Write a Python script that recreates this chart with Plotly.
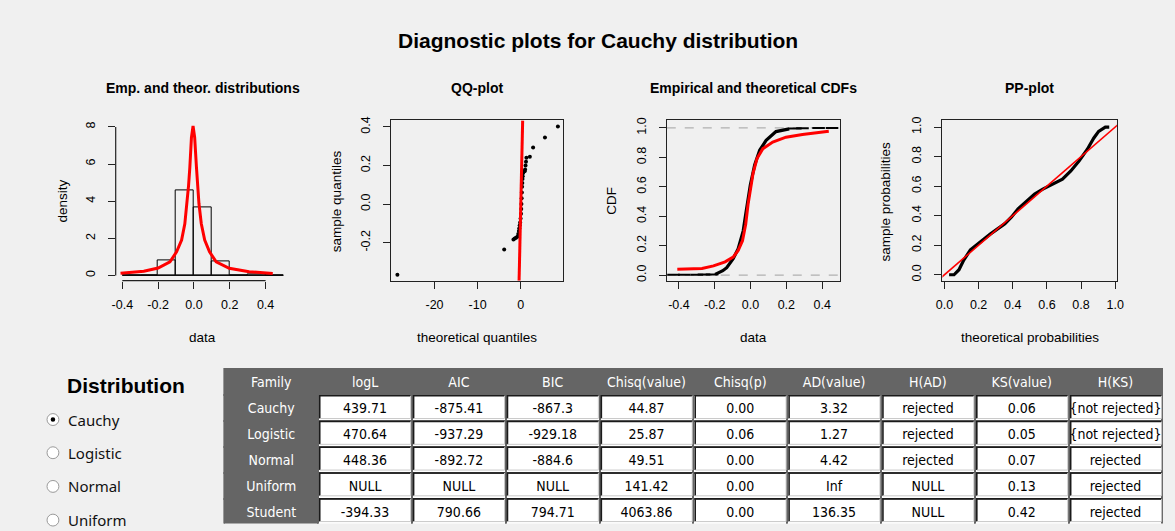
import plotly.graph_objects as go

W, H = 1175, 531
BG = "#f0f0f0"
DARK = "#656565"
ARIAL = "Liberation Sans, Arial, sans-serif"
NARROW = "Liberation Sans Narrow, Arial Narrow, DejaVu Sans Condensed, sans-serif"
UI = "Noto Sans, Open Sans, sans-serif"

# ---- density panel: histogram bins and fitted Cauchy density ----
hist_edges = [-0.4, -0.3, -0.2, -0.1, 0.0, 0.1, 0.2, 0.3, 0.4, 0.5]
hist_density = [0.02, 0.0, 0.82, 4.57, 3.64, 0.73, 0.0, 0.03, 0.0]
dens_x = [-0.41, -0.28, -0.2, -0.134, -0.097, -0.069, -0.051, -0.038, -0.03, -0.023,
          -0.014, -0.005, 0.004, 0.014, 0.02, 0.028, 0.041, 0.06, 0.087, 0.124,
          0.197, 0.308, 0.44]
dens_y = [0.11, 0.22, 0.4, 0.73, 1.27, 1.9, 2.78, 3.86, 4.85, 5.82,
          7.43, 8.05, 7.43, 5.82, 4.85, 3.86, 2.78, 1.9, 1.27, 0.73,
          0.38, 0.2, 0.1]

# ---- QQ panel ----
qq_theo = [-28.6, -3.85, -1.7, -1.4, -1.1, -0.8, -0.6, -0.45, -0.35, -0.25,
           -0.15, -0.05, 0.05, 0.1, 0.15, 0.2, 0.25, 0.3, 0.35, 0.4,
           0.45, 0.5, 0.9, 1.0, 1.1, 1.2, 1.3, 2.1, 2.85, 5.6, 8.6]
qq_samp = [-0.366, -0.236, -0.184, -0.179, -0.174, -0.169, -0.155, -0.14, -0.125, -0.11,
           -0.095, -0.075, -0.05, -0.025, 0.0, 0.03, 0.06, 0.09, 0.11, 0.13,
           0.145, 0.16, 0.17, 0.18, 0.2, 0.22, 0.24, 0.245, 0.294, 0.345, 0.402]

# ---- CDF panel ----
ecdf_x = [-0.198, -0.179, -0.155, -0.133, -0.097, -0.069, -0.041, -0.027, -0.014, -0.001,
          0.023, 0.051, 0.087, 0.142, 0.216]
ecdf_y = [0.005, 0.016, 0.03, 0.051, 0.112, 0.179, 0.301, 0.413, 0.525, 0.614,
          0.748, 0.848, 0.915, 0.975, 0.993]
ecdf_low_x = [-0.43, -0.37, -0.3, -0.26, -0.215]
ecdf_low_y = [0.002, 0.002, 0.003, 0.004, 0.004]
ecdf_high_x = [0.25, 0.29, 0.38, 0.455]
ecdf_high_y = [0.996, 0.998, 0.999, 1.0]
cauchy_cdf_x = [-0.409, -0.271, -0.207, -0.142, -0.097, -0.069, -0.045, -0.027, -0.014, -0.001,
                0.014, 0.036, 0.069, 0.124, 0.198, 0.29, 0.437]
cauchy_cdf_y = [0.040, 0.045, 0.063, 0.090, 0.123, 0.168, 0.234, 0.346, 0.48, 0.592,
                0.692, 0.792, 0.859, 0.904, 0.937, 0.955, 0.977]

# ---- PP panel ----
pp_theo = [0.027, 0.056, 0.085, 0.113, 0.152, 0.21, 0.268, 0.354, 0.393, 0.431,
           0.48, 0.528, 0.576, 0.634, 0.691, 0.74, 0.788, 0.836, 0.875, 0.903,
           0.942, 0.965]
pp_samp = [0.0, 0.0, 0.034, 0.1, 0.168, 0.224, 0.275, 0.346, 0.391, 0.446,
           0.498, 0.547, 0.58, 0.614, 0.647, 0.703, 0.77, 0.848, 0.926, 0.971,
           1.0, 1.0]

# ---- goodness-of-fit table ----
headers = ["Family", "logL", "AIC", "BIC", "Chisq(value)", "Chisq(p)",
           "AD(value)", "H(AD)", "KS(value)", "H(KS)"]
families = ["Cauchy", "Logistic", "Normal", "Uniform", "Student"]
logL = ["439.71", "470.64", "448.36", "NULL", "-394.33"]
aic = ["-875.41", "-937.29", "-892.72", "NULL", "790.66"]
bic = ["-867.3", "-929.18", "-884.6", "NULL", "794.71"]
chisq_value = ["44.87", "25.87", "49.51", "141.42", "4063.86"]
chisq_p = ["0.00", "0.06", "0.00", "0.00", "0.00"]
ad_value = ["3.32", "1.27", "4.42", "Inf", "136.35"]
h_ad = ["rejected", "rejected", "rejected", "NULL", "NULL"]
ks_value = ["0.06", "0.05", "0.07", "0.13", "0.42"]
h_ks = ["{not rejected}", "{not rejected}", "rejected", "rejected", "rejected"]

radio_options = ["Cauchy", "Logistic", "Normal", "Uniform"]
selected = "Cauchy"


def px(x):
    return x / W


def py(y):
    return 1 - y / H


def dom_x(a, b):
    return [a / W, b / W]


def dom_y(top, bottom):
    return [1 - bottom / H, 1 - top / H]


def nowrap(values):
    # keep multi-word entries on a single line inside the table cells
    return [v.replace(" ", "\u00a0") for v in values]


fig = go.Figure()

# histogram
centers = [(a + b) / 2 for a, b in zip(hist_edges[:-1], hist_edges[1:])]
widths = [b - a for a, b in zip(hist_edges[:-1], hist_edges[1:])]
fig.add_trace(go.Bar(x=centers, y=hist_density, width=widths,
                     marker=dict(color="rgba(0,0,0,0)", line=dict(color="black", width=1)),
                     xaxis="x", yaxis="y", hoverinfo="skip"))
fig.add_trace(go.Scatter(x=[hist_edges[0], hist_edges[-1]], y=[0, 0], mode="lines",
                         line=dict(color="black", width=1), xaxis="x", yaxis="y"))
fig.add_trace(go.Scatter(x=dens_x, y=dens_y, mode="lines",
                         line=dict(color="red", width=3), xaxis="x", yaxis="y"))

# QQ plot
qq_yrange = [-0.397, 0.434]
fig.add_trace(go.Scatter(x=qq_theo, y=qq_samp, mode="markers",
                         marker=dict(color="black", size=4), xaxis="x2", yaxis="y2"))
fig.add_trace(go.Scatter(x=qq_yrange, y=qq_yrange, mode="lines",
                         line=dict(color="red", width=3), xaxis="x2", yaxis="y2"))

# CDFs
fig.add_trace(go.Scatter(x=ecdf_x, y=ecdf_y, mode="lines",
                         line=dict(color="black", width=3.2), xaxis="x3", yaxis="y3"))
fig.add_trace(go.Scatter(x=ecdf_low_x + ecdf_high_x, y=ecdf_low_y + ecdf_high_y, mode="markers",
                         marker=dict(symbol="line-ew", size=9, line=dict(color="black", width=2)),
                         xaxis="x3", yaxis="y3"))
fig.add_trace(go.Scatter(x=cauchy_cdf_x, y=cauchy_cdf_y, mode="lines",
                         line=dict(color="red", width=3), xaxis="x3", yaxis="y3"))

# PP plot
fig.add_trace(go.Scatter(x=pp_theo, y=pp_samp, mode="lines",
                         line=dict(color="black", width=3.2), xaxis="x4", yaxis="y4"))
fig.add_trace(go.Scatter(x=[-0.05, 1.05], y=[-0.05, 1.05], mode="lines",
                         line=dict(color="red", width=1.6), xaxis="x4", yaxis="y4"))

# table
n_rows = len(families)
n_cols = len(headers)
columns = [families, logL, aic, bic, chisq_value, chisq_p, ad_value, h_ad, ks_value, h_ks]
fig.add_trace(go.Table(
    domain=dict(x=[220 / W, 1170 / W], y=[1 - 525 / H, 1 - 368 / H]),
    columnwidth=[1] * n_cols,
    header=dict(values=headers, fill_color=DARK, line=dict(color=DARK, width=2),
                font=dict(color="white", size=14, family=NARROW), height=26, align="center"),
    cells=dict(values=[nowrap(col) for col in columns],
               fill_color=[[DARK] * n_rows] + [["white"] * n_rows] * (n_cols - 1),
               line=dict(color=DARK, width=2),
               font=dict(color=["white"] + ["black"] * (n_cols - 1), size=14, family=NARROW),
               height=26, align="center"),
))

tick_font = dict(family=ARIAL, size=12.5, color="black")
common = dict(showgrid=False, zeroline=False, ticks="outside", ticklen=7, tickwidth=1,
              tickcolor="#222", tickfont=tick_font, fixedrange=True)
boxed = dict(showline=True, mirror=True, linecolor="#222", linewidth=1.2)

plot_top, plot_bottom = 117.5, 279.3


def fmt(v, nd):
    return f"{v:.{nd}f}"


hist_xt = [-0.4, -0.2, 0.0, 0.2, 0.4]
hist_yt = [0, 2, 4, 6, 8]
qq_xt = [-20, -10, 0]
qq_yt = [-0.2, 0.0, 0.2, 0.4]
prob_t = [0.0, 0.2, 0.4, 0.6, 0.8, 1.0]

XSO, YSO = 5, 8
fig.update_layout(
    width=W, height=H, margin=dict(l=0, r=0, t=0, b=0),
    paper_bgcolor=BG, plot_bgcolor=BG, showlegend=False, bargap=0,
    xaxis=dict(domain=dom_x(110, 286), range=[-0.437, 0.534], anchor="y",
               tickvals=hist_xt, ticktext=[fmt(v, 1) for v in hist_xt], ticklabelstandoff=XSO, **common),
    yaxis=dict(domain=dom_y(plot_top, plot_bottom), range=[-0.284, 8.35], anchor="x",
               tickvals=hist_yt, ticktext=[str(v) for v in hist_yt], tickangle=-90,
               ticklabelstandoff=YSO, **common),
    xaxis2=dict(domain=dom_x(389, 563), range=[-30.0, 9.85], anchor="y2",
                tickvals=qq_xt, ticktext=[str(v) for v in qq_xt], ticklabelstandoff=XSO, **common, **boxed),
    yaxis2=dict(domain=dom_y(plot_top, plot_bottom), range=qq_yrange, anchor="x2",
                tickvals=qq_yt, ticktext=[fmt(v, 1) for v in qq_yt], tickangle=-90,
                ticklabelstandoff=YSO, **common, **boxed),
    xaxis3=dict(domain=dom_x(667.7, 843.3), range=[-0.468, 0.501], anchor="y3",
                tickvals=hist_xt, ticktext=[fmt(v, 1) for v in hist_xt], ticklabelstandoff=XSO,
                **common, **boxed),
    yaxis3=dict(domain=dom_y(plot_top, plot_bottom), range=[-0.0375, 1.051], anchor="x3",
                tickvals=prob_t, ticktext=[fmt(v, 1) for v in prob_t], tickangle=-90,
                ticklabelstandoff=YSO, **common, **boxed),
    xaxis4=dict(domain=dom_x(946.7, 1123.3), range=[-0.012, 1.01], anchor="y4",
                tickvals=prob_t, ticktext=[fmt(v, 1) for v in prob_t], ticklabelstandoff=XSO,
                **common, **boxed),
    yaxis4=dict(domain=dom_y(plot_top, plot_bottom), range=[-0.04, 1.045], anchor="x4",
                tickvals=prob_t, ticktext=[fmt(v, 1) for v in prob_t], tickangle=-90,
                ticklabelstandoff=YSO, **common, **boxed),
)

shapes = []
# detached R-style axis lines for the histogram panel
shapes.append(dict(type="line", xref="x", yref="y domain", x0=hist_xt[0], x1=hist_xt[-1], y0=0, y1=0,
                   line=dict(color="#222", width=1.2)))
shapes.append(dict(type="line", xref="x domain", yref="y", x0=0, x1=0, y0=hist_yt[0], y1=hist_yt[-1],
                   line=dict(color="#222", width=1.2)))
# reference levels on the CDF panel
for lvl in (0, 1):
    shapes.append(dict(type="line", xref="x3 domain", yref="y3", x0=0, x1=1, y0=lvl, y1=lvl,
                       line=dict(color="#b0b0b0", width=1.2, dash="dash"), layer="below"))

# sunken edges of the value cells
col_w = (1170 - 220) / n_cols
for r in range(n_rows):
    for c in range(1, n_cols):
        x0 = 220 + col_w * c + 1.5
        x1 = 220 + col_w * (c + 1) - 1.5
        y0 = 394 + 26 * r + 1.5
        y1 = 394 + 26 * (r + 1) - 1.5
        shapes.append(dict(type="path", xref="paper", yref="paper",
                           path=f"M{px(x0)},{py(y1)} L{px(x0)},{py(y0)} L{px(x1)},{py(y0)}",
                           line=dict(color="#1a1a1a", width=1.6)))
        shapes.append(dict(type="path", xref="paper", yref="paper",
                           path=f"M{px(x1)},{py(y0)} L{px(x1)},{py(y1)} L{px(x0)},{py(y1)}",
                           line=dict(color="#c8c8c8", width=1)))

# radio buttons
radio_y = [419.5, 453, 487, 521]
for name, yc in zip(radio_options, radio_y):
    shapes.append(dict(type="circle", xref="paper", yref="paper",
                       x0=px(40.5), x1=px(52.5), y0=py(yc + 6), y1=py(yc - 6),
                       fillcolor="white", line=dict(color="#9a9a9a", width=1)))
    if name == selected:
        shapes.append(dict(type="circle", xref="paper", yref="paper",
                           x0=px(44.2), x1=px(48.8), y0=py(yc + 2.3), y1=py(yc - 2.3),
                           fillcolor="black", line=dict(color="black", width=0)))

annotations = []


def text(x, y, s, size, bold=False, family=ARIAL, angle=0, xanchor="center", color="black"):
    annotations.append(dict(x=px(x), y=py(y), xref="paper", yref="paper", text=f"<b>{s}</b>" if bold else s,
                            showarrow=False, textangle=angle, xanchor=xanchor, yanchor="middle",
                            font=dict(family=family, size=size, color=color)))


text(598, 37, "Diagnostic plots for Cauchy distribution", 21, bold=True)
panel_titles = ["Emp. and theor. distributions", "QQ-plot", "Empirical and theoretical CDFs", "PP-plot"]
panel_cx = [198, 476, 755.5, 1035]
for t, cx in zip(panel_titles, panel_cx):
    text(cx, 85, t, 14, bold=True)
x_titles = ["data", "theoretical quantiles", "data", "theoretical probabilities"]
for t, cx in zip(x_titles, panel_cx):
    text(cx, 337, t, 13.5)
y_titles = ["density", "sample quantiles", "CDF", "sample probabilities"]
y_title_x = [56, 333, 611, 889]
for t, xx in zip(y_titles, y_title_x):
    text(xx, 199, t, 13.5, angle=-90)

text(59, 385, "Distribution", 21, bold=True, xanchor="left")
for name, yc in zip(radio_options, radio_y):
    text(60, yc, name, 15, family=UI, xanchor="left", color="#111")

fig.update_layout(shapes=shapes, annotations=annotations)
fig.write_html("out.html")
